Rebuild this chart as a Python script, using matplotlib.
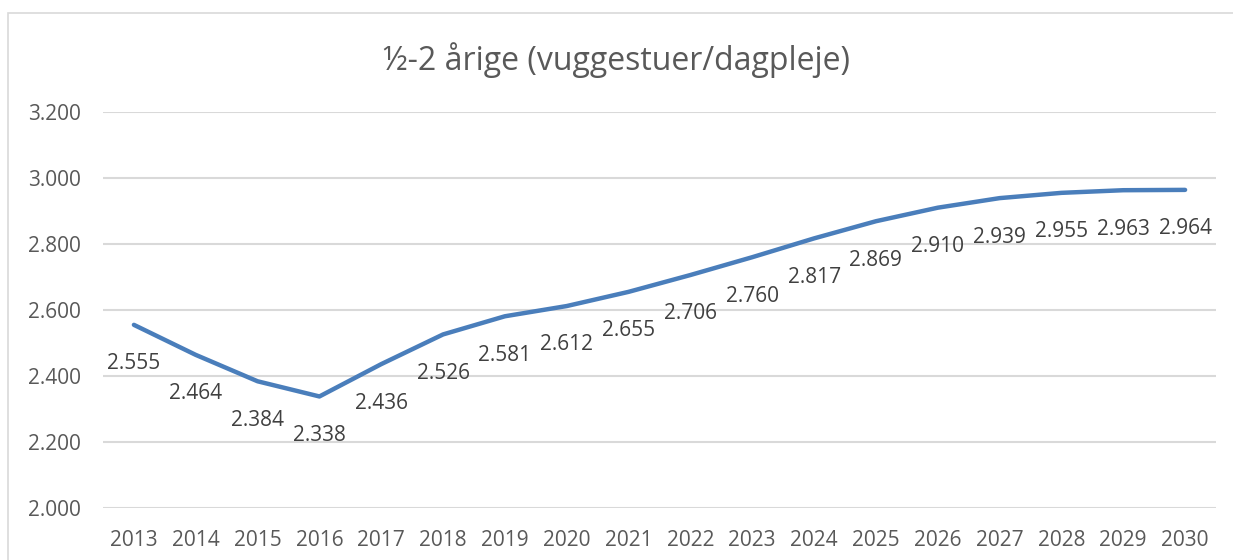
import matplotlib.pyplot as plt
from matplotlib.patches import Rectangle
from matplotlib.ticker import FuncFormatter

years = [str(y) for y in range(2013, 2031)]
children = [2555, 2464, 2384, 2338, 2436, 2526, 2581, 2612, 2655,
            2706, 2760, 2817, 2869, 2910, 2939, 2955, 2963, 2964]
y_ticks = [2000, 2200, 2400, 2600, 2800, 3000, 3200]
title = '½-2 årige (vuggestuer/dagpleje)'

text_color = '#595959'
grid_color = '#d9d9d9'
line_color = '#4a7ebb'

plt.rcParams['font.family'] = ['Open Sans', 'DejaVu Sans']


def dk(v, pos=None):
    return f'{v:,.0f}'.replace(',', '.')


fig = plt.figure(figsize=(12.33, 5.6), dpi=100)
# chart border (runs off the right and bottom of the picture)
fig.patches.append(Rectangle((8 / 1233, -0.1), 1.2, 1 - 13 / 560 + 0.1,
                             transform=fig.transFigure, fill=False,
                             edgecolor=grid_color, linewidth=1.2))

ax = fig.add_axes([103 / 1233, 1 - 508 / 560, (1216 - 103) / 1233, (508 - 112) / 560])
x = list(range(len(years)))
ax.plot(x, children, color=line_color, linewidth=3.2, solid_capstyle='round',
        solid_joinstyle='round', zorder=3)

for xi, v in zip(x, children):
    ax.annotate(dk(v), (xi, v), xytext=(0, -28), textcoords='offset points',
                ha='center', va='center', fontsize=15, color='#404040')

ax.set_xlim(-0.5, len(years) - 0.5)
ax.set_ylim(2000, 3200)
ax.set_yticks(y_ticks)
ax.yaxis.set_major_formatter(FuncFormatter(dk))
ax.set_xticks(x)
ax.set_xticklabels(years)
ax.grid(axis='y', color=grid_color, linewidth=1.5)
ax.set_axisbelow(True)
for s in ax.spines.values():
    s.set_visible(False)
ax.tick_params(length=0, labelsize=15, colors=text_color)
ax.tick_params(axis='y', pad=16)
ax.tick_params(axis='x', pad=16)

fig.text(0.5, 1 - 60 / 560, title, ha='center', va='center',
         fontsize=23, color=text_color)

fig.savefig('out.png', dpi=100)
